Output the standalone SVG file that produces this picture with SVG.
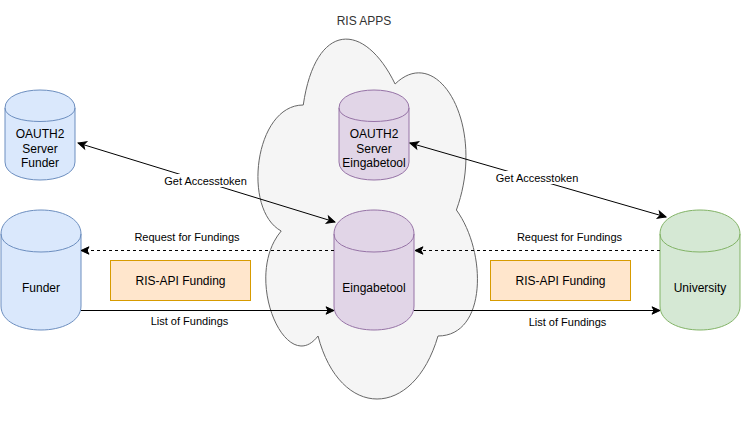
<svg xmlns="http://www.w3.org/2000/svg" width="741" height="421" viewBox="0 0 741 421">
  <style>
    text { font-family: "Liberation Sans", Arial, Helvetica, sans-serif; fill: #000000; }
    .node { font-size: 12px; text-anchor: middle; }
    .elabel { font-size: 11px; text-anchor: middle; }
    .blue { fill: #dae8fc; stroke: #6c8ebf; stroke-width: 1; }
    .purple { fill: #e1d5e7; stroke: #9673a6; stroke-width: 1; }
    .green { fill: #d5e8d4; stroke: #82b366; stroke-width: 1; }
    .front { fill: none; }
    .api { fill: #ffe6cc; stroke: #d79b00; stroke-width: 1; }
    .cloud { fill: #f5f5f5; stroke: #666666; stroke-width: 1; }
    .edge { fill: none; stroke: #000000; stroke-width: 1; }
    .dashed { stroke-dasharray: 3 3; }
    .lblbg { fill: #ffffff; stroke: none; }
  </style>
  <defs>
    <marker id="arrow" markerUnits="userSpaceOnUse" markerWidth="12" markerHeight="12" refX="0" refY="0" orient="auto-start-reverse" viewBox="-10 -6 12 12" overflow="visible">
      <path d="M0,0 L-8,-3.7 L-6,0 L-8,3.7 Z" fill="#000000" stroke="#000000" stroke-width="1" stroke-dasharray="none"/>
    </marker>
  </defs>

  <rect width="741" height="421" fill="#ffffff"/>

  <g id="ris-apps">
    <path class="cloud" d="M303.25,105 C254.25,105 242,210 281.2,231 C242,277.2 286.1,378 318,336 C340,420 413.5,420 438,336 C487,336 487,252 456.4,210 C487,126 438,42 395.1,84 C364.5,21 315.5,21 303.25,105 Z"/>
    <text x="364" y="25" class="node" style="fill:#333333">RIS APPS</text>
  </g>

  <g id="oauth2-funder">
    <path class="blue" d="M5,108 C5,84 75,84 75,108 L75,162 C75,186 5,186 5,162 Z"/>
    <path class="blue front" d="M5,108 C5,126 75,126 75,108"/>
    <text x="40" y="138" class="node">OAUTH2</text>
    <text x="40" y="153" class="node">Server</text>
    <text x="40" y="167" class="node">Funder</text>
  </g>

  <g id="funder">
    <path class="blue" d="M1,234 C1,202 81,202 81,234 L81,306 C81,338 1,338 1,306 Z"/>
    <path class="blue front" d="M1,234 C1,258 81,258 81,234"/>
    <text x="41" y="292" class="node">Funder</text>
  </g>

  <g id="oauth2-eingabetool">
    <path class="purple" d="M339,108 C339,84 409,84 409,108 L409,162 C409,186 339,186 339,162 Z"/>
    <path class="purple front" d="M339,108 C339,126 409,126 409,108"/>
    <text x="374" y="138" class="node">OAUTH2</text>
    <text x="374" y="153" class="node">Server</text>
    <text x="374" y="167" class="node">Eingabetool</text>
  </g>

  <g id="eingabetool">
    <path class="purple" d="M334,234 C334,202 414,202 414,234 L414,306 C414,338 334,338 334,306 Z"/>
    <path class="purple front" d="M334,234 C334,258 414,258 414,234"/>
    <text x="374" y="292" class="node">Eingabetool</text>
  </g>

  <g id="university">
    <path class="green" d="M660,234 C660,202 740,202 740,234 L740,306 C740,338 660,338 660,306 Z"/>
    <path class="green front" d="M660,234 C660,258 740,258 740,234"/>
    <text x="700" y="292" class="node">University</text>
  </g>

  <g id="ris-api-funding-left">
    <rect class="api" x="110.5" y="260.5" width="140" height="40"/>
    <text x="180.5" y="284.5" class="node">RIS-API Funding</text>
  </g>

  <g id="ris-api-funding-right">
    <rect class="api" x="490.5" y="260.5" width="140" height="40"/>
    <text x="560.5" y="284.5" class="node">RIS-API Funding</text>
  </g>

  <g id="connectors">
    <line class="edge" x1="78" y1="143" x2="335" y2="222" marker-start="url(#arrow)" marker-end="url(#arrow)"/>
    <rect class="lblbg" x="163" y="174" width="85" height="13"/>
    <text x="205.5" y="185" class="elabel">Get Accesstoken</text>

    <line class="edge" x1="410" y1="143" x2="666" y2="217" marker-start="url(#arrow)" marker-end="url(#arrow)"/>
    <rect class="lblbg" x="495" y="171" width="85" height="13"/>
    <text x="537" y="182" class="elabel">Get Accesstoken</text>

    <line class="edge dashed" x1="334" y1="250.5" x2="81" y2="250.5" marker-end="url(#arrow)"/>
    <text x="187" y="241" class="elabel">Request for Fundings</text>

    <line class="edge dashed" x1="660" y1="250.5" x2="415" y2="250.5" marker-end="url(#arrow)"/>
    <text x="569.5" y="241" class="elabel">Request for Fundings</text>

    <line class="edge" x1="81" y1="310.5" x2="334" y2="310.5" marker-end="url(#arrow)"/>
    <text x="189.5" y="325" class="elabel">List of Fundings</text>

    <line class="edge" x1="414" y1="310.5" x2="660" y2="310.5" marker-end="url(#arrow)"/>
    <text x="567.5" y="326" class="elabel">List of Fundings</text>
  </g>
</svg>
